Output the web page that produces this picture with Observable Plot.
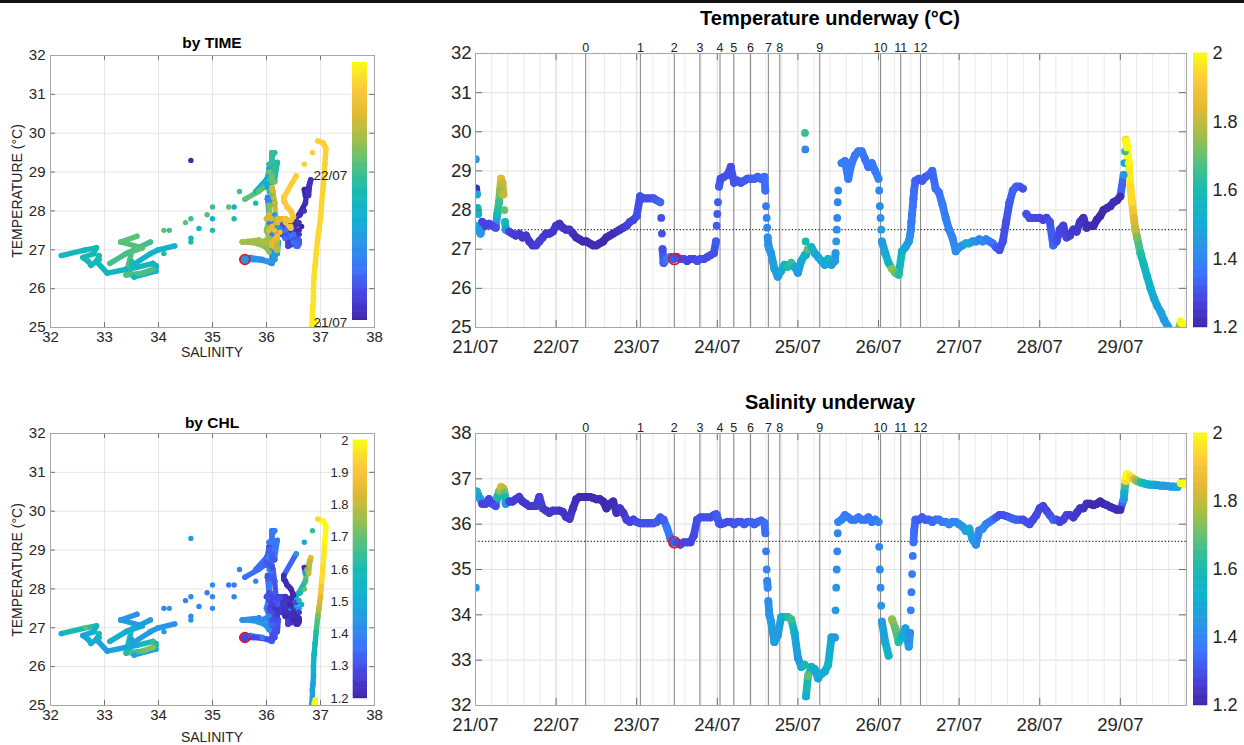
<!DOCTYPE html>
<html><head><meta charset="utf-8">
<script src="https://cdn.jsdelivr.net/npm/d3@7"></script>
<script src="https://cdn.jsdelivr.net/npm/@observablehq/plot@0.6"></script>
<style>
body{margin:0;background:#fff;}
#root{position:relative;width:1244px;height:745px;overflow:hidden;font-family:"Liberation Sans",Arial,Helvetica,sans-serif;color:#262626;}
.lbl{position:absolute;white-space:nowrap;transform:translate(-50%,-50%);}
</style></head><body><div id="root"></div>
<script>
// ---------- data (hourly underway records, hour 0 = 21/07 00:00) ----------
const dayLabels = ["21/07","22/07","23/07","24/07","25/07","26/07","27/07","28/07","29/07"];
const endHour = 211.7;
const hours = d3.range(0, 212);
const tempC = [
 27.6,27.5,27.7,27.6,27.65,27.6,27.55,28.2,28.7,27.5,27.45,27.4,27.35,27.4,27.3,27.35,27.2,27.1,27.1,27.2,27.3,27.4,27.4,27.45,
 27.6,27.65,27.55,27.5,27.5,27.4,27.3,27.25,27.2,27.2,27.15,27.1,27.1,27.15,27.2,27.3,27.35,27.4,27.45,27.5,27.55,27.6,27.7,27.75,
 27.85,28.35,28.3,28.3,28.3,28.3,28.25,28.2,26.65,26.75,26.8,26.75,26.8,26.75,26.75,26.7,26.75,26.75,26.7,26.75,26.75,26.8,26.85,26.9,
 27.9,28.8,28.85,28.9,29.1,28.7,28.75,28.7,28.75,28.8,28.8,28.8,28.85,28.8,28.85,27.3,26.9,26.5,26.3,26.45,26.6,26.55,26.65,26.55,
 26.4,26.7,26.85,27.0,27.05,26.9,26.8,26.7,26.6,26.75,26.6,26.7,28.5,29.2,29.25,28.8,29.2,29.4,29.5,29.5,29.3,29.1,29.2,29.0,
 28.8,27.2,26.9,26.65,26.5,26.4,26.35,26.95,27.05,27.2,27.9,28.75,28.8,28.75,28.85,28.9,29.0,28.55,28.45,28.15,27.8,27.5,27.3,26.95,
 27.05,27.1,27.15,27.15,27.2,27.2,27.25,27.2,27.25,27.2,27.15,27.05,26.98,27.2,27.7,28.2,28.5,28.6,28.6,28.55,27.9,27.8,27.8,27.8,
 27.8,27.75,27.8,27.7,27.1,27.2,27.5,27.6,27.3,27.35,27.5,27.45,27.7,27.8,27.55,27.6,27.6,27.75,27.85,28.0,28.05,28.1,28.2,28.25,
 28.35,28.9,29.6,28.6,27.8,27.3,26.9,26.6,26.3,26.0,25.75,25.55,25.4,25.2,25.05,24.9,24.8,24.85,25.15,25.05
];
const salinity = [
 36.65,36.6,36.45,36.45,36.55,36.45,36.4,36.72,36.8,36.45,36.5,36.5,36.55,36.6,36.5,36.45,36.4,36.4,36.4,36.6,36.35,36.3,36.25,36.3,
 36.3,36.3,36.27,36.16,36.12,36.35,36.55,36.6,36.6,36.6,36.6,36.58,36.55,36.55,36.5,36.35,36.45,36.5,36.25,36.35,36.25,36.1,36.05,36.1,
 36.05,36.02,36.02,36.02,36.02,36.02,36.05,36.15,36.1,35.92,35.7,35.6,35.6,35.55,35.6,35.6,35.6,35.75,36.1,36.15,36.15,36.15,36.15,36.2,
 36.15,36.0,36.02,36.05,36.05,36.0,36.05,36.05,36.0,36.05,36.05,36.0,36.05,36.08,36.03,34.6,33.85,33.4,33.55,33.95,33.95,33.95,33.9,33.6,
 33.05,32.85,32.9,32.65,32.85,32.8,32.6,32.7,32.75,32.9,33.5,33.5,36.05,36.1,36.2,36.15,36.1,36.1,36.15,36.1,36.1,36.15,36.05,36.1,
 36.05,33.85,33.4,33.1,33.9,33.7,33.4,33.5,33.7,33.3,34.9,36.1,36.1,36.15,36.1,36.1,36.05,36.1,36.1,36.05,36.05,36.0,36.05,36.05,
 36.0,35.95,35.85,35.9,35.66,35.55,35.86,35.9,36.0,36.05,36.1,36.15,36.2,36.2,36.18,36.15,36.12,36.1,36.1,36.1,36.05,36.0,36.1,36.2,
 36.35,36.4,36.3,36.2,36.1,36.1,36.05,36.1,36.2,36.2,36.15,36.25,36.35,36.35,36.45,36.45,36.42,36.45,36.5,36.45,36.42,36.38,36.35,36.32,
 36.32,36.55,37.1,37.05,37.0,36.95,36.92,36.9,36.88,36.87,36.87,36.86,36.85,36.85,36.84,36.83,36.83,36.82,36.9,36.88
];
const chl = [
 1.5,1.45,1.28,1.28,1.28,1.28,1.3,1.65,1.8,1.45,1.28,1.27,1.26,1.26,1.25,1.25,1.25,1.25,1.26,1.27,1.26,1.25,1.25,1.25,
 1.25,1.24,1.24,1.24,1.25,1.23,1.22,1.22,1.21,1.21,1.21,1.22,1.22,1.22,1.21,1.21,1.22,1.22,1.23,1.24,1.25,1.27,1.28,1.28,
 1.3,1.3,1.3,1.3,1.3,1.31,1.32,1.34,1.33,1.38,1.36,1.32,1.3,1.3,1.29,1.28,1.28,1.29,1.3,1.3,1.3,1.3,1.3,1.3,
 1.32,1.3,1.3,1.3,1.3,1.31,1.31,1.31,1.32,1.32,1.33,1.33,1.33,1.34,1.35,1.42,1.45,1.48,1.45,1.5,1.55,1.62,1.65,1.5,
 1.45,1.5,1.6,1.7,1.55,1.5,1.48,1.5,1.5,1.55,1.48,1.45,1.4,1.4,1.38,1.38,1.38,1.37,1.37,1.38,1.36,1.36,1.37,1.38,
 1.4,1.45,1.5,1.55,1.75,1.7,1.62,1.52,1.48,1.45,1.38,1.33,1.32,1.32,1.32,1.33,1.34,1.35,1.36,1.38,1.38,1.4,1.4,1.42,
 1.42,1.44,1.48,1.5,1.45,1.42,1.4,1.42,1.4,1.38,1.36,1.32,1.3,1.3,1.3,1.32,1.33,1.33,1.32,1.3,1.3,1.3,1.29,1.29,
 1.28,1.28,1.28,1.3,1.34,1.3,1.28,1.27,1.28,1.26,1.25,1.25,1.24,1.23,1.23,1.22,1.21,1.21,1.21,1.21,1.22,1.22,1.22,1.22,
 1.22,1.45,2.0,1.95,1.85,1.72,1.62,1.58,1.55,1.52,1.5,1.48,1.48,1.46,1.46,1.45,1.45,1.5,2.0,2.0
];
// extra (sub-hourly) records: spikes, outliers and fast transitions
const extraHours = [0.1,0.2,0.4,0.6,0.8,1.5, 6.5,7.3,7.6,8.3,8.6,8.8, 55.3,55.5,55.7, 71.6,71.8,72.2,72.5,
  86.3,86.5,86.7,86.85,87.2,87.5, 98.1,98.2,98.3,98.4, 107.2,107.4,107.55,107.7,107.85,
  120.2,120.4,120.6,120.8, 129.4,129.6,129.8,130.2,130.4,130.6, 193.2,193.4,193.6,193.8,194.5,195.5,196.5];
const extraTemp = [29.3,28.55,28.4,28.05,27.9,27.4, 27.9,28.5,28.8,28.4,28.0,27.7, 27.8,27.4,27.0, 27.2,27.6,28.2,28.6,
  28.5,28.1,27.8,27.55,27.1,27.0, 29.97,29.55,27.2,26.85, 26.9,27.2,27.5,27.8,28.2,
  28.5,28.1,27.8,27.5, 27.35,27.5,27.7,28.1,28.3,28.5, 29.2,29.5,29.8,29.75,29.2,28.2,27.5];
const extraSal = [34.6,36.7,36.72,36.68,36.62,36.55, 36.6,36.75,36.82,36.78,36.7,36.6, 36.12,36.1,36.1, 36.22,36.2,36.1,36.02,
  35.8,35.4,35.0,34.75,34.3,34.0, null,null,null,32.2, 34.1,34.6,35.0,35.4,35.8,
  35.5,35.0,34.6,34.2, 33.6,34.1,34.5,35.3,35.6,35.85, 36.7,36.85,36.95,37.05,37.08,37.02,36.97];
const extraChl = [1.45,1.22,1.5,1.55,1.55,1.45, 1.6,1.75,1.85,1.8,1.7,1.6, 1.3,1.3,1.3, 1.32,1.32,1.32,1.32,
  1.35,1.38,1.4,1.4,1.42,1.45, 1.65,1.4,1.6,1.5, 1.45,1.45,1.42,1.4,1.4,
  1.4,1.42,1.42,1.45, 1.42,1.4,1.38,1.36,1.35,1.35, 1.5,1.65,1.95,2.0,2.0,1.95,1.8];

const stationLabels = ["0","1","2","3","4","5","6","7","8","9","10","11","12"];
const stationHours = [32.8,49.1,59.2,66.8,72.8,76.9,81.9,87.2,90.6,102.5,120.6,126.6,132.5];
const station2Ref = {h: 59.2, T: 26.75, S: 35.6};
const tempRefLine = 27.5;
const salRefLine = 35.62;
const tempTicks = [25,26,27,28,29,30,31,32];
const salSeriesTicks = [32,33,34,35,36,37,38];
const salTicks = [32,33,34,35,36,37,38];
const chlTicksRight = [1.2,1.4,1.6,1.8,2];
const chlTicksLeft = [1.2,1.3,1.4,1.5,1.6,1.7,1.8,1.9,2];
const dateNotes = [{label:"22/07", S:36.87, T:28.92},{label:"21/07", S:36.87, T:25.13}];

// ---------- helpers ----------
const parulaAnchors = ["#3e26a8","#4743e0","#3a74fc","#2895e6","#10b1cf","#16bab0","#50c07f","#a0be48","#e2b831","#fcc93a","#f9fb14"];
const parula = d3.piecewise(d3.interpolateRgb, parulaAnchors);
const FONT = '"Liberation Sans",Arial,Helvetica,sans-serif';
const fmt = d3.format("~g");

const records = hours.map((h,i)=>({h, T: tempC[i], S: salinity[i], C: chl[i]}))
  .concat(extraHours.map((h,i)=>({h, T: extraTemp[i], S: extraSal[i], C: extraChl[i]})))
  .sort((a,b)=>a.h-b.h);
const stations = stationLabels.map((label,i)=>({label, h: stationHours[i]}));
const dayTicks = dayLabels.map((_,i)=>i*24);
const minorGrid = d3.range(0, endHour, 4.8);

function smooth(a, b, key, maxJump, maxRate){
  const dt = b.h - a.h, dv = Math.abs(b[key] - a[key]);
  return dt <= 1.01 && dv <= maxJump && dv / dt <= maxRate;
}
function segments(pts, ok){
  const out = [];
  for (let i = 1; i < pts.length; i++) {
    const a = pts[i-1], b = pts[i];
    if (ok(a, b)) out.push({a, b, C: (a.C + b.C) / 2, h: (a.h + b.h) / 2});
  }
  return out;
}
// inward MATLAB-style tick marks on all four sides (length given as a fraction of the domain)
function boxTicks(xd, yd, xt, yt, fx, fy){
  const lx = (xd[1]-xd[0])*fx, ly = (yd[1]-yd[0])*fy, st = {stroke: "#6e6e6e", strokeWidth: 1};
  return [
    Plot.ruleY(yt, {...st, x1: xd[0], x2: xd[0]+lx}),
    Plot.ruleY(yt, {...st, x1: xd[1]-lx, x2: xd[1]}),
    Plot.ruleX(xt, {...st, y1: yd[0], y2: yd[0]+ly}),
    Plot.ruleX(xt, {...st, y1: yd[1]-ly, y2: yd[1]})
  ];
}

const root = document.getElementById("root");
function place(node, left, top){ node.style.position="absolute"; node.style.left=left+"px"; node.style.top=top+"px"; root.appendChild(node); }
function text(str, x, y, {size=14, bold=false, rotate=false}={}){
  const d=document.createElement("div"); d.className="lbl"; d.textContent=str;
  d.style.left=x+"px"; d.style.top=y+"px"; d.style.fontSize=size+"px";
  if(bold){ d.style.fontWeight="bold"; d.style.color="#000"; }
  if(rotate) d.style.transform="translate(-50%,-50%) rotate(-90deg)";
  root.appendChild(d);
}

function seriesPanel(key, yDomain, yTicks, refLine, mB){
  const pts = records.filter(d=>d[key]!=null);
  const segs = segments(pts, (a,b)=> smooth(a, b, key, 0.65, 1.3));
  const xDomain = [0, endHour];
  return Plot.plot({
    width: 780, height: 370, marginLeft: 55, marginRight: 14, marginTop: 53, marginBottom: mB,
    style: {fontFamily: FONT, fontSize: "18.5px", color: "#262626", background: "transparent"},
    x: {domain: xDomain, ticks: dayTicks, tickFormat: d=>dayLabels[Math.round(d/24)], tickSize: 0, tickPadding: 12, label: null},
    y: {domain: yDomain, ticks: yTicks, tickFormat: fmt, tickSize: 0, tickPadding: 4, label: null},
    color: {type: "linear", domain: [1.2, 2], interpolate: parula, clamp: true},
    marks: [
      Plot.ruleX(minorGrid, {stroke: "#ebebeb"}),
      Plot.ruleX(dayTicks, {stroke: "#dcdcdc"}),
      Plot.ruleY(yTicks, {stroke: "#e2e2e2"}),
      Plot.ruleX(stationHours, {stroke: "#8c8c8c", strokeWidth: 1.1}),
      Plot.text(stations, {x: "h", text: "label", frameAnchor: "top", lineAnchor: "bottom", dy: -2, fontSize: 12.5, fill: "#222"}),
      Plot.ruleY([refLine], {stroke: "#333", strokeDasharray: "1.3,2", strokeWidth: 1.4}),
      Plot.link(segs, {x1: d=>d.a.h, y1: d=>d.a[key], x2: d=>d.b.h, y2: d=>d.b[key], stroke: "C", strokeWidth: 7.8, strokeLinecap: "round", clip: true}),
      Plot.dot(pts, {x: "h", y: key, fill: "C", r: 3.9, clip: true}),
      Plot.dot([station2Ref], {x: "h", y: key, r: 5.5, stroke: "#e3141c", strokeWidth: 1.6, fill: "none"}),
      ...boxTicks(xDomain, yDomain, dayTicks, yTicks, 0.01, 0.026),
      Plot.frame({stroke: "#a6a6a6"})
    ]
  });
}

function tsPanel(colorKey, colorScale, notes, mB){
  const pts = records.filter(d=>d.T!=null && d.S!=null);
  const segs = segments(pts, (a,b)=> smooth(a, b, "S", 0.6, 1.3) && smooth(a, b, "T", 0.6, 1.3));
  return Plot.plot({
    width: 400, height: 378, marginLeft: 50, marginRight: 26, marginTop: 55, marginBottom: mB,
    style: {fontFamily: FONT, fontSize: "15px", color: "#262626", background: "transparent"},
    x: {domain: [32, 38], ticks: salTicks, tickFormat: fmt, tickSize: 0, tickPadding: 4, label: null},
    y: {domain: [25, 32], ticks: tempTicks, tickFormat: fmt, tickSize: 0, tickPadding: 5, label: null},
    color: colorScale,
    marks: [
      Plot.ruleX(salTicks, {stroke: "#e6e6e6"}),
      Plot.ruleY(tempTicks, {stroke: "#e6e6e6"}),
      Plot.link(segs, {x1: d=>d.a.S, y1: d=>d.a.T, x2: d=>d.b.S, y2: d=>d.b.T, stroke: colorKey, strokeWidth: 5.4, strokeLinecap: "round", clip: true}),
      Plot.dot(pts, {x: "S", y: "T", fill: colorKey, r: 2.7, clip: true}),
      Plot.dot([station2Ref], {x: "S", y: "T", r: 5, stroke: "#e3141c", strokeWidth: 1.6, fill: "none"}),
      Plot.text(notes, {x: "S", y: "T", text: "label", textAnchor: "start", fontSize: 13.5, fill: "#222"}),
      ...boxTicks([32, 38], [25, 32], salTicks, tempTicks, 0.015, 0.018),
      Plot.frame({stroke: "#a6a6a6"})
    ]
  });
}

function colorbar(domain, width, height, opts){
  const n = 120, step = (domain[1]-domain[0])/n;
  const bands = d3.range(n).map(i=>domain[0]+i*step);
  return Plot.plot({
    width, height, marginTop: opts.mT||0, marginBottom: opts.mB||0, marginLeft: opts.mL||0, marginRight: opts.mR||0,
    style: {fontFamily: FONT, fontSize: (opts.fs||14)+"px", color: "#262626", background: "transparent"},
    x: {domain: [0,1], axis: null},
    y: {domain, axis: opts.axis || null, ticks: opts.ticks, tickFormat: fmt, tickSize: 0, tickPadding: 5, label: null},
    color: {type: "linear", domain, interpolate: parula},
    marks: [
      Plot.rect(bands, {x1: 0, x2: 1, y1: d=>d, y2: d=>d+step*1.05, fill: d=>d+step/2, stroke: d=>d+step/2, strokeWidth: 0.5})
    ]
  });
}

// ---------- layout ----------
const topBar = document.createElement("div");
topBar.style.cssText = "position:absolute;left:0;top:0;width:1244px;height:3px;background:#111;";
root.appendChild(topBar);

// top-left: T-S by time
place(tsPanel("h", {type: "linear", domain: [0, endHour], interpolate: parula}, dateNotes, 51), 0, 0);
place(colorbar([0, endHour], 15, 258, {}), 352, 62);
text("by TIME", 212, 43, {size: 15.5, bold: true});
text("SALINITY", 212, 352, {size: 14});
text("TEMPERATURE (°C)", 17, 191, {size: 14, rotate: true});

// bottom-left: T-S by CHL
place(tsPanel("C", {type: "linear", domain: [1.2, 2], interpolate: parula, clamp: true}, [], 51), 0, 378);
place(colorbar([1.2, 2], 67, 278, {axis: "left", ticks: chlTicksLeft, mL: 53, mT: 10, mB: 10, fs: 13}), 300, 430);
text("by CHL", 212, 423, {size: 15.5, bold: true});
text("SALINITY", 212, 737, {size: 14});
text("TEMPERATURE (°C)", 17, 570, {size: 14, rotate: true});

// top-right: temperature series
place(seriesPanel("T", [25, 32], tempTicks, tempRefLine, 43), 420, 0);
place(colorbar([1.2, 2], 51, 370, {axis: "right", ticks: chlTicksRight, mT: 53, mB: 43, mR: 37, fs: 18}), 1193, 0);
text("Temperature underway (°C)", 830, 18, {size: 20, bold: true});

// bottom-right: salinity series
place(seriesPanel("S", [32, 38], salSeriesTicks, salRefLine, 45), 420, 380);
place(colorbar([1.2, 2], 51, 370, {axis: "right", ticks: chlTicksRight, mT: 53, mB: 45, mR: 37, fs: 18}), 1193, 380);
text("Salinity underway", 830, 402, {size: 20, bold: true});
</script></body></html>
